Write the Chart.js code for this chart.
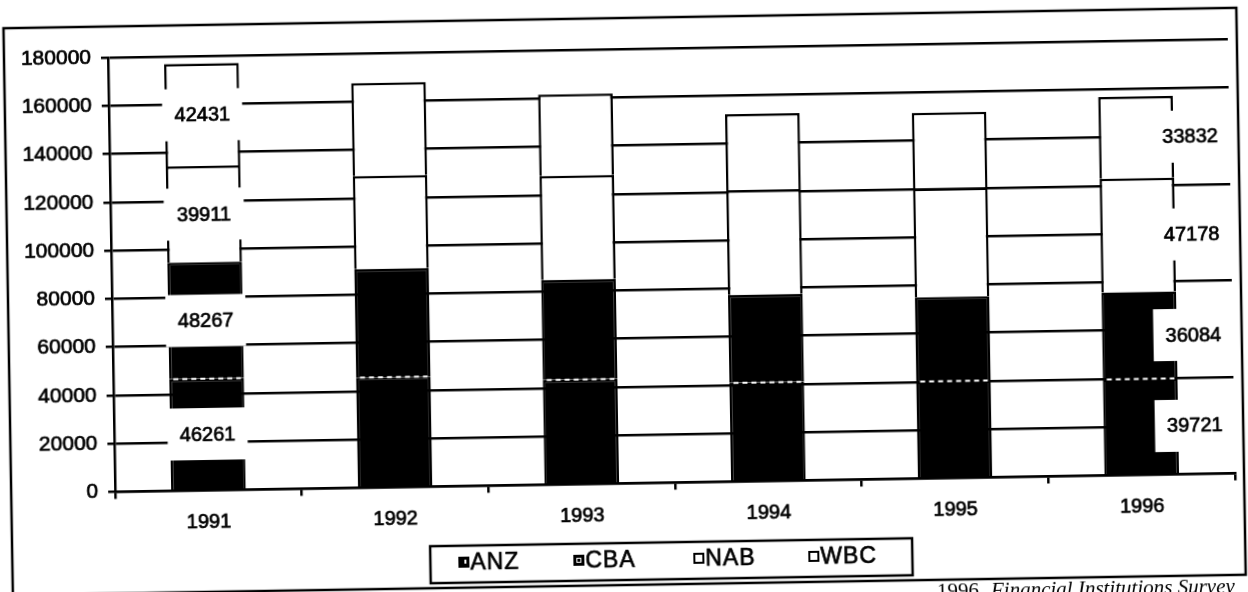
<!DOCTYPE html>
<html>
<head>
<meta charset="utf-8">
<script src="https://cdn.jsdelivr.net/npm/chart.js@4.4.1/dist/chart.umd.min.js"></script>
<style>
html,body{margin:0;padding:0;background:#fff;overflow:hidden;width:1248px;height:592px}
#wrap{position:absolute;left:0;top:0;width:1270px;height:640px;transform-origin:624px 296px;transform:rotate(-0.95deg);background:#fff}
canvas{display:block}
</style>
</head>
<body>
<div id="wrap"><canvas id="c" width="1270" height="640"></canvas></div>
<script>
// ---- data ----
const years = ['1991', '1992', '1993', '1994', '1995', '1996'];
const anz = [46261, 45700, 43400, 40900, 40200, 39721];
const cba = [48267, 44900, 41400, 36500, 34900, 36084];
const nab = [39911, 38600, 43100, 43400, 45000, 47178];
const wbc = [42431, 38500, 33800, 31400, 31400, 33832];
const yTicks = [0, 20000, 40000, 60000, 80000, 100000, 120000, 140000, 160000, 180000];
const seriesNames = ['ANZ', 'CBA', 'NAB', 'WBC'];
const labelledYears = ['1991', '1996'];
const sourceYear = '1996';
const sourceTitle = 'Financial Institutions Survey';

const SANS = '"Liberation Sans", Arial, sans-serif';
const SERIF = '"Liberation Serif", "Times New Roman", serif';
const LW = 2.5;
const TS = 0.7; // text thickening stroke (scan look)

function heavyText(ctx, txt, x, y) {
  ctx.fillText(txt, x, y);
  ctx.save();
  ctx.strokeStyle = ctx.fillStyle;
  ctx.lineWidth = TS;
  ctx.setLineDash([]);
  ctx.strokeText(txt, x, y);
  ctx.restore();
}

const decor = {
  id: 'decor',
  afterDatasetsDraw(chart) {
    const ctx = chart.ctx;
    // dotted white boundary between ANZ and CBA
    const m0 = chart.getDatasetMeta(0);
    ctx.save();
    ctx.strokeStyle = '#fff';
    ctx.lineWidth = 2;
    ctx.setLineDash([5, 4]);
    m0.data.forEach(el => {
      const p = el.getProps(['x', 'y', 'width'], true);
      ctx.beginPath();
      ctx.moveTo(p.x - p.width / 2 + 4, p.y);
      ctx.lineTo(p.x + p.width / 2 - 3, p.y);
      ctx.stroke();
    });
    ctx.restore();

    // value labels with white boxes (1991 centred, 1996 to the right)
    ctx.save();
    ctx.font = '20px ' + SANS;
    ctx.textAlign = 'center';
    ctx.textBaseline = 'middle';
    labelledYears.forEach(yr => {
      const i = years.indexOf(yr);
      const dx = (i === years.length - 1) ? 54 : 0;
      chart.data.datasets.forEach((ds, d) => {
        const el = chart.getDatasetMeta(d).data[i];
        const p = el.getProps(['x', 'y', 'base'], true);
        const cx = p.x + dx;
        const cy = (p.y + p.base) / 2;
        ctx.fillStyle = '#fff';
        ctx.fillRect(cx - 40, cy - 26, 80, 52);
        ctx.fillStyle = '#000';
        heavyText(ctx, String(ds.data[i]), cx, cy + 1);
      });
    });
    ctx.restore();
  },
  afterDraw(chart) {
    const ctx = chart.ctx;
    ctx.save();
    // outer frame
    ctx.strokeStyle = '#000';
    ctx.lineWidth = LW;
    ctx.strokeRect(8, 18, 1233, 567);

    // legend box
    const lx = 426, ly = 543, lw = 482, lh = 37;
    ctx.strokeRect(lx, ly, lw, lh);
    const markX = [454, 569, 689, 804];
    const cy = ly + lh / 2 - 2;
    ctx.font = '23px ' + SANS;
    ctx.textAlign = 'left';
    ctx.textBaseline = 'middle';
    try { ctx.letterSpacing = '1px'; } catch (e) {}
    seriesNames.forEach((name, k) => {
      const mx = markX[k], s = 11;
      const my = cy - s / 2;
      if (k === 0) {
        ctx.fillStyle = '#000';
        ctx.fillRect(mx, my, s, s);
        ctx.fillStyle = '#fff';
        ctx.fillRect(mx + 6, my + 3, 2, 4);
      } else if (k === 1) {
        ctx.fillStyle = '#000';
        ctx.fillRect(mx, my, s, s);
        ctx.strokeStyle = '#fff';
        ctx.lineWidth = 1;
        ctx.strokeRect(mx + 3.5, my + 3.5, 4, 4);
      } else {
        ctx.fillStyle = '#fff';
        ctx.fillRect(mx, my, s, s);
        ctx.strokeStyle = '#000';
        ctx.lineWidth = 2;
        ctx.strokeRect(mx + 1, my + 1, s - 2, s - 2);
      }
      ctx.fillStyle = '#000';
      heavyText(ctx, name, mx + s + 1, cy + 1);
    });
    try { ctx.letterSpacing = '0px'; } catch (e) {}

    // source line (partly cut off at the page bottom)
    ctx.fillStyle = '#000';
    ctx.textBaseline = 'alphabetic';
    ctx.font = '21px ' + SERIF;
    ctx.fillText(sourceYear, 932, 603);
    const w = ctx.measureText(sourceYear).width;
    ctx.font = 'italic 21px ' + SERIF;
    ctx.fillText(sourceTitle, 932 + w + 12, 603);
    ctx.restore();
  }
};

const chart = new Chart(document.getElementById('c'), {
  type: 'bar',
  data: {
    labels: years,
    datasets: [
      { label: seriesNames[0], data: anz, backgroundColor: '#000', borderColor: '#000', borderWidth: LW },
      { label: seriesNames[1], data: cba, backgroundColor: '#000', borderColor: '#000', borderWidth: LW },
      { label: seriesNames[2], data: nab, backgroundColor: '#fff', borderColor: '#000', borderWidth: LW },
      { label: seriesNames[3], data: wbc, backgroundColor: '#fff', borderColor: '#000', borderWidth: LW }
    ]
  },
  options: {
    responsive: false,
    animation: false,
    devicePixelRatio: 1,
    layout: { padding: { left: 0, right: 38, top: 49, bottom: 96.5 } },
    datasets: { bar: { barPercentage: 0.8, categoryPercentage: 0.5 } },
    plugins: { legend: { display: false }, tooltip: { enabled: false } },
    scales: {
      x: {
        stacked: true,
        grid: { display: true, drawOnChartArea: false, drawTicks: true, tickLength: 7, color: '#000', lineWidth: LW, offset: true },
        border: { display: true, color: '#000', width: LW },
        ticks: { color: '#000', font: { family: SANS, size: 20 }, padding: 13, maxRotation: 0, textStrokeColor: '#000', textStrokeWidth: TS },
        afterFit(s) { s.height = 60; }
      },
      y: {
        stacked: true,
        min: 0,
        max: 180000,
        afterBuildTicks(s) { s.ticks = yTicks.map(v => ({ value: v })); },
        grid: { color: '#000', lineWidth: LW, tickLength: 7, drawTicks: true },
        border: { display: true, color: '#000', width: LW },
        ticks: { color: '#000', font: { family: SANS, size: 21 }, padding: 10, callback: v => String(v), textStrokeColor: '#000', textStrokeWidth: TS },
        afterFit(s) { s.width = 112; }
      }
    }
  },
  plugins: [decor]
});
</script>
</body>
</html>
